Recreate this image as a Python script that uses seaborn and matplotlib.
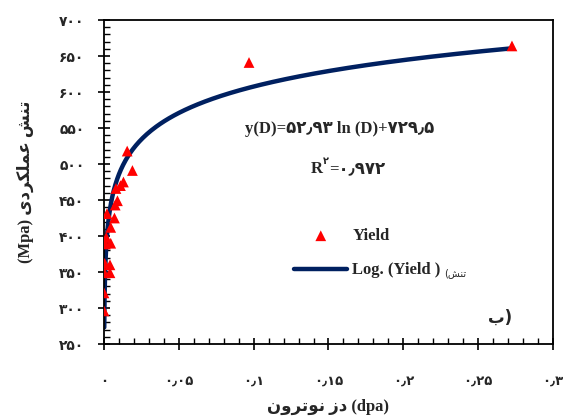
import numpy as np
import pandas as pd
import matplotlib
matplotlib.use("Agg")
import matplotlib.pyplot as plt
import seaborn as sns
from matplotlib.ticker import FixedLocator, MultipleLocator

# Data (dose in dpa, yield stress in MPa)
dose = [0.0, 0.0, 0.0002, 0.004, 0.0005, 0.004, 0.001, 0.0045, 0.0015, 0.0045,
        0.002, 0.007, 0.0075, 0.009, 0.008, 0.011, 0.013, 0.019, 0.0155, 0.0969, 0.2726]
yield_stress = [296, 321, 349, 349, 362, 360, 389, 390, 398, 412,
                431, 425, 443, 449, 466, 470, 475, 491, 518, 641, 664]

# Excel log trendline coefficients shown on the chart
fit_slope = 52.93
fit_intercept = 729.5
fit_range = [0.00018, 0.2726]

y_ticks = [250, 300, 350, 400, 450, 500, 550, 600, 650, 700]
y_tick_labels = ["۲۵۰", "۳۰۰", "۳۵۰", "۴۰۰", "۴۵۰", "۵۰۰", "۵۵۰", "۶۰۰", "۶۵۰", "۷۰۰"]
x_ticks = [0, 0.05, 0.1, 0.15, 0.2, 0.25, 0.3]
x_tick_labels = ["۰", "۰٫۰۵", "۰٫۱", "۰٫۱۵", "۰٫۲", "۰٫۲۵", "۰٫۳"]

# Persian text written in presentation forms, visual (left-to-right) order
tanesh = "\uFEB6\uFEE8\uFE97"                                  # تنش
amalkardi = "\uFBFC\uFEA9\uFEAE\uFB91\uFEE0\uFEE4\uFECB"        # عملکردی
dozz = "\uFEAF\uFEA9"                                          # دز
notron = "\uFEE5\uFEED\uFEAE\uFE97\uFEEE\uFEE7"                 # نوترون
ylabel = "(Mpa) " + amalkardi + " " + tanesh
xlabel = notron + " " + dozz + " (dpa)"
eq_text = "y(D)=۵۲٫۹۳ ln (D)+۷۲۹٫۵"
r2_value = "=۰٫۹۷۲"
panel_label = "\uFE8F)"

df_pts = pd.DataFrame({"dose": dose, "yield": yield_stress})
d_fit = np.geomspace(fit_range[0], fit_range[1], 300)
df_fit = pd.DataFrame({"dose": d_fit, "yield": fit_slope * np.log(d_fit) + fit_intercept})

sns.set_style("ticks")
plt.rcParams["font.family"] = ["Liberation Serif", "DejaVu Sans"]

fig = plt.figure(figsize=(5.63, 4.17), dpi=100)
ax = fig.add_axes([0.1847, 0.175, 0.7975, 0.777])

sns.lineplot(data=df_fit, x="dose", y="yield", color="#002060", linewidth=3.2,
             ax=ax, label="Log. (Yield )", zorder=2)
sns.scatterplot(data=df_pts, x="dose", y="yield", marker="^", color="#ff0000",
                s=60, edgecolor="none", ax=ax, label="Yield", zorder=3)

ax.set_xlim(0, 0.3)
ax.set_ylim(250, 700)
ax.xaxis.set_major_locator(FixedLocator(x_ticks))
ax.yaxis.set_major_locator(FixedLocator(y_ticks))
ax.xaxis.set_minor_locator(MultipleLocator(0.01))
ax.yaxis.set_minor_locator(MultipleLocator(10))
ax.set_xticklabels(x_tick_labels, family="DejaVu Sans", fontsize=9.5, fontweight="bold")
ax.set_yticklabels(y_tick_labels, family="DejaVu Sans", fontsize=10, fontweight="bold")
ax.tick_params(axis="both", which="major", direction="inout", length=8, width=1.2, color="black")
ax.tick_params(axis="both", which="minor", direction="in", length=4, width=1.0, color="black")
ax.tick_params(axis="x", which="major", pad=18)
ax.tick_params(axis="y", which="major", pad=10)
for s in ax.spines.values():
    s.set_linewidth(1.3)
    s.set_color("black")

ax.set_xlabel(xlabel, fontsize=12, fontweight="bold", labelpad=8)
ax.set_ylabel(ylabel, fontsize=12, fontweight="bold", labelpad=18)

ax.text(0.525, 0.663, eq_text, transform=ax.transAxes, ha="center", va="center",
        fontsize=12, fontweight="bold")
ax.text(0.46, 0.54, "R", transform=ax.transAxes, ha="left", va="center",
        fontsize=12, fontweight="bold")
ax.text(0.488, 0.565, "۲", transform=ax.transAxes, ha="left", va="center",
        fontsize=7, fontweight="bold", family="DejaVu Sans")
ax.text(0.502, 0.54, r2_value, transform=ax.transAxes, ha="left", va="center",
        fontsize=12, fontweight="bold")
ax.text(0.855, 0.08, panel_label, transform=ax.transAxes, ha="left", va="center",
        fontsize=12, fontweight="bold", family="DejaVu Sans")

handles, labels = ax.get_legend_handles_labels()
leg = ax.legend(handles[::-1], labels[::-1], loc="center left", bbox_to_anchor=(0.39, 0.28),
                frameon=False, prop={"weight": "bold", "size": 12}, handlelength=3.2,
                labelspacing=1.1, handletextpad=0.3)
ax.text(0.758, 0.219, "(" + tanesh, transform=ax.transAxes, ha="left",
        va="center", fontsize=7, family="DejaVu Sans")

fig.savefig("out.png", dpi=100)
